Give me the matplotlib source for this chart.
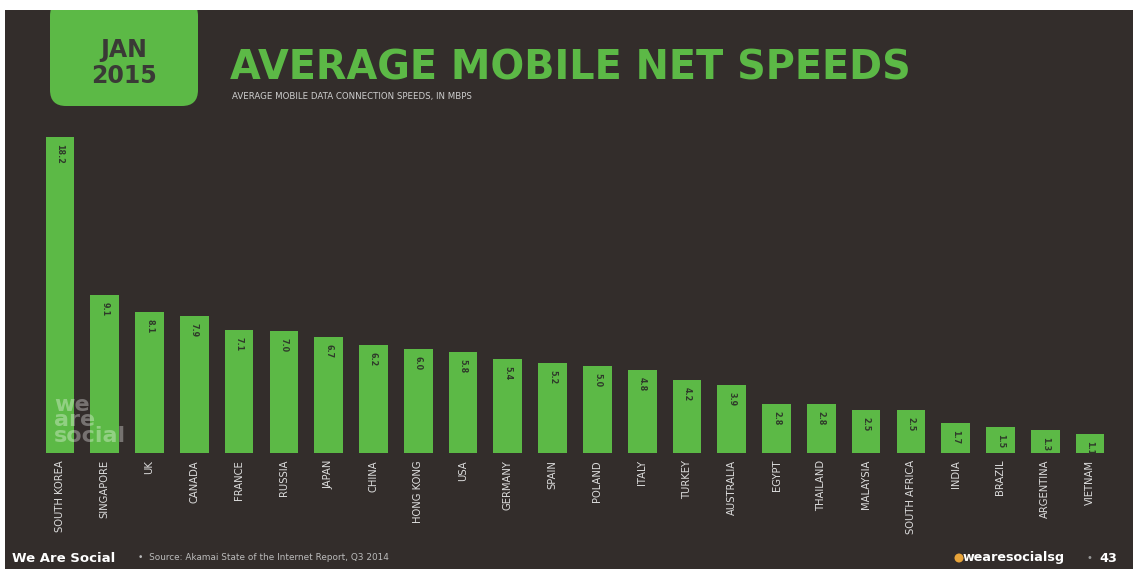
import matplotlib
matplotlib.use('Agg')
import matplotlib.pyplot as plt
from matplotlib.patches import FancyBboxPatch, Rectangle, Circle

countries = ['SOUTH KOREA', 'SINGAPORE', 'UK', 'CANADA', 'FRANCE', 'RUSSIA', 'JAPAN',
             'CHINA', 'HONG KONG', 'USA', 'GERMANY', 'SPAIN', 'POLAND', 'ITALY',
             'TURKEY', 'AUSTRALIA', 'EGYPT', 'THAILAND', 'MALAYSIA', 'SOUTH AFRICA',
             'INDIA', 'BRAZIL', 'ARGENTINA', 'VIETNAM']
speeds = [18.2, 9.1, 8.1, 7.9, 7.1, 7.0, 6.7, 6.2, 6.0, 5.8, 5.4, 5.2, 5.0, 4.8,
          4.2, 3.9, 2.8, 2.8, 2.5, 2.5, 1.7, 1.5, 1.3, 1.1]

BG = '#332d2b'
GREEN = '#5cb946'
DARK = '#2f3a2a'
NARROW = ['Liberation Sans Narrow', 'DejaVu Sans Condensed', 'DejaVu Sans']

W, H = 1133, 569
fig = plt.figure(figsize=(W / 100, H / 100), dpi=100, facecolor='white')

# dark slide background (thin white margin top/left)
bg = fig.add_axes([0, 0, 1, 1])
bg.set_xlim(0, W)
bg.set_ylim(H, 0)
bg.axis('off')
bg.add_patch(Rectangle((5, 10), W - 5, H - 10, facecolor=BG, edgecolor='none'))

# date tab
bg.add_patch(FancyBboxPatch((50, 0), 148, 106, boxstyle='round,pad=0,rounding_size=16',
                            facecolor=GREEN, edgecolor='none'))
bg.add_patch(Rectangle((5, 0), W, 10, facecolor='white', edgecolor='none'))
bg.text(124, 50, 'JAN', ha='center', va='center', fontsize=17, fontweight='bold',
        color='#3a3a36')
bg.text(124, 76, '2015', ha='center', va='center', fontsize=17, fontweight='bold',
        color='#3a3a36')

bg.text(230, 68, 'AVERAGE MOBILE NET SPEEDS', ha='left', va='center', fontsize=28.6,
        fontweight='bold', color=GREEN)
bg.text(232, 96, 'AVERAGE MOBILE DATA CONNECTION SPEEDS, IN MBPS', ha='left',
        va='center', fontsize=6.2, color='#cfcfcf')

# footer
bg.text(12, 558, 'We Are Social', ha='left', va='center', fontsize=9.5, fontweight='bold',
        color='white')
bg.text(138, 558, '•  Source: Akamai State of the Internet Report, Q3 2014', ha='left',
        va='center', fontsize=6.4, color='#bbbbbb')
bg.add_patch(Circle((959, 558), 4.5, facecolor='#e8a43a', edgecolor='none'))
bg.text(963, 558, 'wearesocialsg', ha='left', va='center', fontsize=9.2,
        fontweight='bold', color='white')
bg.text(1087, 558, '•', ha='left', va='center', fontsize=7, color='#999999')
bg.text(1099, 558, '43', ha='left', va='center', fontsize=9.2, fontweight='bold',
        color='white')

# bar chart
left, right = 37.6, 1112.4
top, base = 137, 453
ax = fig.add_axes([left / W, (H - base) / H, (right - left) / W, (base - top) / H])
ax.set_facecolor('none')
x = range(len(countries))
bars = ax.bar(x, speeds, width=0.64, color=GREEN, edgecolor='none', zorder=2)
ax.set_xlim(-0.5, len(countries) - 0.5)
ax.set_ylim(0, max(speeds))
ax.axis('off')

for i, v in enumerate(speeds):
    ax.annotate(f'{v:.1f}', (i, v), xytext=(0, -5), textcoords='offset points',
                ha='center', va='top', rotation=-90, fontsize=5.8, fontweight='bold',
                color=DARK, family=NARROW)
    ax.annotate(countries[i], (i, 0), xytext=(0, -5), textcoords='offset points',
                ha='center', va='top', rotation=90, fontsize=7.2, color='#dddddd',
                family=NARROW)

# watermark over the first bars
ax.text(54, 446, 'we\nare\nsocial', transform=bg.transData, ha='left', va='bottom',
        fontsize=16, fontweight='bold', color='white', alpha=0.33, linespacing=0.72,
        zorder=5)

fig.savefig('out.png', dpi=100, facecolor='white')
